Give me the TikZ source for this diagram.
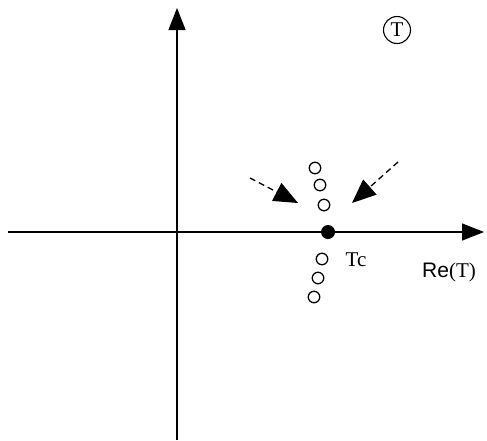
\documentclass[tikz,border=0pt]{standalone}
\usepackage{fontspec}
\setmainfont{Liberation Serif}
\newfontfamily\arialfont{Liberation Sans}
\usetikzlibrary{arrows.meta}

\begin{document}
\begin{tikzpicture}[x=1pt, y=-1pt,
    axis/.style={line width=1.4pt, -{Triangle[length=22pt, width=17pt]}},
    flow/.style={line width=1.3pt, dashed, dash pattern=on 6pt off 4pt, -{Triangle[length=24pt, width=20pt]}},
    zero/.style={circle, draw, line width=1.3pt, minimum size=11.5pt, inner sep=0pt},
    lbl/.style={font=\fontsize{21}{25}\selectfont, inner sep=0pt}]

    \useasboundingbox (0,0) rectangle (487,440);

    % Axes
    \coordinate (xl) at (8,232);
    \coordinate (xr) at (484,232);
    \coordinate (yb) at (177,440);
    \coordinate (yt) at (177,8);
    \draw[axis] (xl) -- (xr);
    \draw[axis] (yb) -- (yt);
    \node[lbl] (re) at (449,272) {{\arialfont Re}(T)};

    % Plane label
    \node[lbl, circle, draw, line width=1.1pt, minimum size=27pt] (plane) at (397,30) {T};

    % Critical point
    \fill (328,232) circle[radius=7pt];
    \node[lbl] (tc) at (356,260) {Tc};

    % Zeros approaching the axis
    \node[zero] (z1) at (315,168) {};
    \node[zero] (z2) at (320,185) {};
    \node[zero] (z3) at (324,205) {};
    \node[zero] (z4) at (322,259) {};
    \node[zero] (z5) at (318,278) {};
    \node[zero] (z6) at (314,297) {};

    % Dashed arrows
    \coordinate (la) at (250,178);
    \coordinate (lb) at (298,203);
    \coordinate (ra) at (398,162);
    \coordinate (rb) at (352,203);
    \draw[flow] (la) -- (lb);
    \draw[flow] (ra) -- (rb);

\end{tikzpicture}
\end{document}
